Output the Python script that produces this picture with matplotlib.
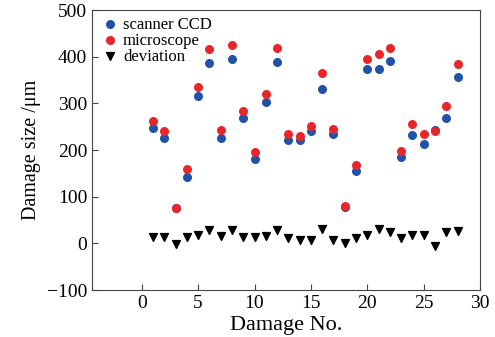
import numpy as np
import matplotlib.pyplot as plt

plt.rcParams['font.family'] = ['Liberation Serif', 'DejaVu Serif']

damage_no = np.arange(1, 29)
scanner_ccd = [247, 225, 75, 143, 316, 386, 225, 396, 269, 180, 303, 388, 221, 221,
               241, 331, 234, 79, 156, 374, 374, 390, 185, 233, 214, 244, 268, 356]
microscope = [263, 241, 75, 159, 336, 416, 243, 425, 283, 195, 321, 418, 235, 231,
              252, 365, 245, 81, 169, 396, 407, 418, 199, 255, 234, 240, 294, 384]
deviation = [13, 13, -1, 13, 18, 29, 16, 29, 13, 13, 16, 29, 11, 8,
             8, 31, 8, 0, 11, 19, 31, 24, 11, 19, 19, -5, 24, 27]

fig = plt.figure(figsize=(4.95, 3.37), dpi=100)
ax = fig.add_axes([0.186, 0.139, 0.784, 0.831])

ax.scatter(damage_no, scanner_ccd, s=30, color='#1f52a8', label='scanner CCD', zorder=3)
ax.scatter(damage_no, microscope, s=30, color='#e8262a', label='microscope', zorder=4)
ax.scatter(damage_no, deviation, s=32, marker='v', color='black', label='deviation', zorder=5)

ax.set_xlim(-4.4, 30)
ax.set_ylim(-100, 500)
ax.set_xticks([0, 5, 10, 15, 20, 25, 30])
ax.set_yticks([-100, 0, 100, 200, 300, 400, 500])
ax.set_yticklabels(['\u2212100', '0', '100', '200', '300', '400', '500'])
ax.tick_params(direction='in', length=4, labelsize=14, top=False, right=False, color='#444444')
for sp in ax.spines.values():
    sp.set_color('#444444')
ax.set_xlabel('Damage No.', fontsize=16, labelpad=3)
ax.set_ylabel('Damage size /\u03bcm', fontsize=14.5, labelpad=4)

ax.legend(loc='upper left', frameon=False, fontsize=12, handletextpad=0.05,
          borderaxespad=0.2, labelspacing=0.0, handlelength=1.4, borderpad=0.2)

fig.savefig('out.png', dpi=100)
